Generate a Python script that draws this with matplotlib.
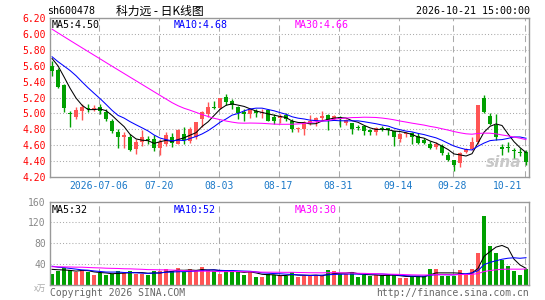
import matplotlib
matplotlib.use('Agg')
import matplotlib.pyplot as plt
import matplotlib.transforms as mtransforms
import numpy as np

# daily bars, oldest first (80 sessions)
opens = [5.60, 5.55, 5.36, 5.00, 4.96, 5.03, 5.07, 5.06, 5.08, 5.02,
         4.90, 4.77, 4.70, 4.70, 4.55, 4.645, 4.68, 4.675, 4.56, 4.62,
         4.70, 4.62, 4.74, 4.65, 4.70, 4.93, 4.99, 5.08, 5.07, 5.21,
         5.15, 5.08, 5.02, 4.99, 5.03, 5.00, 5.04, 4.95, 4.945, 4.98,
         4.91, 4.81, 4.81, 4.88, 4.90, 4.945, 4.98, 4.93, 4.96, 4.88,
         4.875, 4.83, 4.84, 4.79, 4.77, 4.82, 4.82, 4.78, 4.675, 4.74,
         4.75, 4.71, 4.67, 4.62, 4.58, 4.59, 4.48, 4.41, 4.37, 4.51,
         4.55, 4.645, 5.19, 4.97, 4.855, 4.575, 4.575, 4.535, 4.505, 4.52]
highs = [5.66, 5.57, 5.37, 5.03, 5.08, 5.12, 5.12, 5.11, 5.12, 5.06,
         4.93, 4.81, 4.77, 4.74, 4.68, 4.79, 4.72, 4.73, 4.675, 4.77,
         4.75, 4.80, 4.83, 4.83, 4.89, 5.03, 5.14, 5.15, 5.20, 5.25,
         5.18, 5.09, 5.06, 5.07, 5.05, 5.05, 5.05, 4.99, 4.99, 5.00,
         4.93, 4.83, 4.91, 4.98, 4.96, 5.03, 4.99, 4.98, 4.97, 4.93,
         4.88, 4.86, 4.84, 4.80, 4.83, 4.84, 4.82, 4.78, 4.75, 4.77,
         4.77, 4.75, 4.69, 4.65, 4.64, 4.62, 4.52, 4.42, 4.52, 4.56,
         4.70, 5.10, 5.23, 5.00, 4.99, 4.62, 4.645, 4.56, 4.56, 4.54]
lows = [5.47, 5.32, 5.02, 4.83, 4.93, 4.92, 5.02, 5.03, 4.99, 4.90,
        4.75, 4.57, 4.56, 4.53, 4.49, 4.59, 4.62, 4.53, 4.48, 4.59,
        4.575, 4.61, 4.61, 4.625, 4.68, 4.83, 4.96, 5.05, 5.06, 5.10,
        5.05, 4.93, 4.90, 4.945, 4.96, 4.94, 4.90, 4.87, 4.88, 4.90,
        4.76, 4.76, 4.73, 4.85, 4.84, 4.92, 4.79, 4.92, 4.83, 4.85,
        4.74, 4.79, 4.73, 4.73, 4.73, 4.78, 4.73, 4.59, 4.64, 4.70,
        4.61, 4.61, 4.61, 4.55, 4.55, 4.48, 4.40, 4.28, 4.33, 4.50,
        4.54, 4.62, 5.00, 4.86, 4.67, 4.48, 4.52, 4.44, 4.47, 4.35]
closes = [5.53, 5.33, 5.07, 4.99, 5.04, 5.08, 5.06, 5.07, 5.03, 4.93,
          4.78, 4.70, 4.73, 4.54, 4.645, 4.70, 4.67, 4.56, 4.645, 4.73,
          4.63, 4.79, 4.67, 4.81, 4.89, 5.02, 5.08, 5.07, 5.20, 5.14,
          5.11, 5.00, 4.99, 5.05, 5.00, 5.02, 4.91, 4.91, 4.97, 4.93,
          4.80, 4.82, 4.89, 4.90, 4.945, 4.97, 4.92, 4.97, 4.93, 4.92,
          4.80, 4.82, 4.78, 4.77, 4.82, 4.81, 4.79, 4.70, 4.74, 4.745,
          4.70, 4.63, 4.63, 4.56, 4.62, 4.50, 4.42, 4.35, 4.50, 4.55,
          4.645, 5.10, 5.02, 4.87, 4.70, 4.55, 4.57, 4.53, 4.50, 4.39]
volumes = [22, 26, 32, 29, 24, 28.5, 24, 20, 23, 20,
           21, 27, 23, 27, 21, 21, 20, 26, 27, 31,
           26, 32, 25, 30, 27, 34, 28, 27, 21, 26,
           28, 26, 20, 26, 16, 14.5, 22, 19.5, 17.6, 17.6,
           24, 16, 17.6, 17.6, 19.5, 17.6, 28.5, 26, 21, 21,
           24, 16, 19.5, 17.6, 19.5, 17.6, 19.5, 20, 12.5, 12.5,
           17.6, 17.6, 17.6, 31.6, 31.6, 17.6, 17.6, 17.6, 29, 19,
           31.6, 62, 132.5, 75, 62, 47.5, 37, 26, 19.5, 30]

# the 29 sessions before the window, only used for the moving averages
pre_closes = [6.75, 6.48, 6.40, 6.44, 6.47, 6.45, 6.46, 6.41, 6.33, 6.16,
              6.08, 6.10, 5.92, 6.01, 6.08, 6.05, 5.94, 6.02, 6.10, 6.00,
              5.95, 5.62, 5.55, 5.70, 5.85, 5.80, 5.76, 5.70, 5.66]
pre_volumes = [30, 38, 33, 36, 29, 41, 35, 32, 37, 30,
               34, 39, 31, 36, 33, 38, 30, 35, 33, 40,
               45, 40, 44, 38, 43, 30, 34, 33, 31]

date_idx = [8, 18, 28, 38, 48, 58, 67, 79]
date_labels = ['2026-07-06', '07-20', '08-03', '08-17', '08-31', '09-14', '09-28', '10-21']
price_ticks = [4.20, 4.40, 4.60, 4.80, 5.00, 5.20, 5.40, 5.60, 5.80, 6.00, 6.20]
vol_ticks = [40, 80, 120, 160]

RED = '#ff5555'
GREEN = '#00a000'
GRID = '#aaaaaa'
FRAME = '#999999'
MONO = 'DejaVu Sans Mono'
W, H = 545, 300


def moving_avg(pre, vals, n):
	s = np.array(pre + vals, dtype=float)
	return np.convolve(s, np.ones(n) / n, mode='valid')[-len(vals):]


def px_axes(fig, l, t, r, b):
	return fig.add_axes([l / W, 1 - b / H, (r - l) / W, (b - t) / H])


o = np.array(opens)
c = np.array(closes)
x = np.arange(len(closes))
col = np.where(c >= o, RED, GREEN)

fig = plt.figure(figsize=(W / 100, H / 100), dpi=100)
ax = px_axes(fig, 50, 18, 529, 177)
axv = px_axes(fig, 50, 201.5, 529, 285)

for a in (ax, axv):
	a.set_xlim(-0.35, 79.5)
	for s in a.spines.values():
		s.set_color(FRAME)
		s.set_linewidth(1)
	a.tick_params(length=0, pad=3)
	a.set_xticks([])
	for i in date_idx:
		a.axvline(i - 0.25, color=GRID, lw=0.75, ls=(0, (6, 4)), zorder=0)

# price panel
ax.set_ylim(4.20, 6.20)
ax.set_yticks(price_ticks)
ax.set_yticklabels(['%.2f' % p for p in price_ticks], color='red', fontsize=7, family=MONO)
for p in price_ticks[1:-1]:
	ax.axhline(p, color=GRID, lw=0.75, ls=(0, (1, 2)), zorder=0)

ax.vlines(x, lows, highs, colors=col, lw=1, zorder=2)
ax.bar(x, np.maximum(np.abs(c - o), 0.012), bottom=np.minimum(o, c),
       width=0.8, color=col, lw=0, zorder=3)

ax.plot(x, moving_avg(pre_closes, closes, 5), color='black', lw=0.75, zorder=4)
ax.plot(x, moving_avg(pre_closes, closes, 10), color='#0000ff', lw=0.75, zorder=4)
ax.plot(x, moving_avg(pre_closes, closes, 30), color='#ff00ff', lw=0.75, zorder=4)

trans = mtransforms.blended_transform_factory(ax.transData, ax.transAxes)
ax.text(-0.1, 0.955, 'MA5:4.50', transform=trans, color='black', fontsize=7.2, family=MONO, va='center')
ax.text(20.2, 0.955, 'MA10:4.68', transform=trans, color='#0000ff', fontsize=7.2, family=MONO, va='center')
ax.text(40.5, 0.955, 'MA30:4.66', transform=trans, color='#ff00ff', fontsize=7.2, family=MONO, va='center')
ax.text(0.985, 0.09, 'sina', transform=ax.transAxes, ha='right', va='center',
        color='#c8c8c8', fontsize=11, fontweight='bold', style='italic', zorder=1)

for i, lab in zip(date_idx, date_labels):
	if i == date_idx[-1]:
		ax.text(i - 0.6, -0.057, lab, transform=trans, ha='right', va='center',
		        color='#1a78c8', fontsize=7, family=MONO)
	else:
		ax.text(i - 0.25, -0.057, lab, transform=trans, ha='center', va='center',
		        color='#1a78c8', fontsize=7, family=MONO)

# volume panel
axv.set_ylim(0, 160)
axv.set_yticks(vol_ticks)
axv.set_yticklabels([str(v) for v in vol_ticks], color='#888888', fontsize=7, family=MONO)
for v in vol_ticks[:-1]:
	axv.axhline(v, color=GRID, lw=0.75, ls=(0, (1, 2)), zorder=0)
axv.bar(x, volumes, width=0.8, color=col, lw=0, zorder=2)
axv.plot(x, moving_avg(pre_volumes, volumes, 5), color='black', lw=0.75, zorder=4)
axv.plot(x, moving_avg(pre_volumes, volumes, 10), color='#0000ff', lw=0.75, zorder=4)
axv.plot(x, moving_avg(pre_volumes, volumes, 30), color='#ff00ff', lw=0.75, zorder=4)

vtrans = mtransforms.blended_transform_factory(axv.transData, axv.transAxes)
axv.text(-0.1, 0.9, 'MA5:32', transform=vtrans, color='black', fontsize=7.2, family=MONO, va='center')
axv.text(20.2, 0.9, 'MA10:52', transform=vtrans, color='#0000ff', fontsize=7.2, family=MONO, va='center')
axv.text(40.5, 0.9, 'MA30:30', transform=vtrans, color='#ff00ff', fontsize=7.2, family=MONO, va='center')

# header / footer
fig.text(47 / W, 1 - 11 / H, 'sh600478', fontsize=7.2, family=MONO, va='center')
fig.text(116 / W, 1 - 11 / H, '科力远 - 日K线图', fontsize=8.5,
         family=['Noto Sans CJK SC', 'DejaVu Sans'], va='center')
fig.text(530 / W, 1 - 11 / H, '2026-10-21 15:00:00', fontsize=7.2, family=MONO, va='center', ha='right')
fig.text(46 / W, 1 - 288 / H, 'x万', fontsize=6, color='#aaaaaa',
         family=['Noto Sans CJK SC', 'DejaVu Sans'], va='center', ha='right')
fig.text(50 / W, 1 - 292.5 / H, 'Copyright 2026 SINA.COM', fontsize=7, color='#666666', family=MONO, va='center')
fig.text(529 / W, 1 - 292.5 / H, 'http://finance.sina.com.cn', fontsize=7, color='#666666',
         family=MONO, va='center', ha='right')

fig.savefig('out.png', dpi=100, facecolor='white')
